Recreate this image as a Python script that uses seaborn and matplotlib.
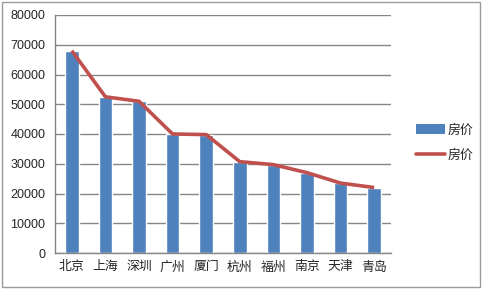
import matplotlib
matplotlib.use("Agg")
import matplotlib.pyplot as plt
import seaborn as sns
import pandas as pd
import numpy as np
from matplotlib.patches import Rectangle, Patch
from matplotlib.lines import Line2D

cities = ["北京", "上海", "深圳", "广州", "厦门", "杭州", "福州", "南京", "天津", "青岛"]
prices = [68000, 52500, 51000, 40000, 39800, 30700, 29700, 27000, 23500, 22000]
series_name = "房价"
y_ticks = [0, 10000, 20000, 30000, 40000, 50000, 60000, 70000, 80000]

sns.set_style("white")
plt.rcParams['font.family'] = ['Liberation Sans', 'Noto Sans CJK SC', 'DejaVu Sans']

df = pd.DataFrame({"city": cities, "price": prices})

fig = plt.figure(figsize=(4.82, 2.90), dpi=100)
ax = fig.add_axes([55/482, 1-253/290, (391-55)/482, (253-15)/290])

bar_color = "#4F81BD"
line_color = "#C0504D"
grid_color = "#868686"

sns.barplot(data=df, x="city", y="price", color=bar_color, width=0.4,
            saturation=1, ax=ax, zorder=2)
sns.pointplot(data=df, x="city", y="price", color=line_color, markers="",
              linestyles="-", errorbar=None, ax=ax, zorder=3)
for ln in ax.lines:
    ln.set_linewidth(2.6)
    ln.set_solid_capstyle("butt")

ax.set_xlim(-0.5, 9.5)
ax.set_ylim(0, 80000)
ax.set_yticks(y_ticks)
ax.set_yticklabels([str(v) for v in y_ticks], fontsize=9)
ax.set_xlabel("")
ax.set_ylabel("")
ax.tick_params(axis="x", which="major", length=0, labelsize=9.3, pad=6)
ax.set_xticks(np.arange(-0.5, 10, 1), minor=True)
ax.tick_params(axis="x", which="minor", length=4, color=grid_color, width=1, direction="out")
ax.tick_params(axis="y", length=4, color=grid_color, width=1, direction="out", pad=3)
ax.yaxis.grid(True, color=grid_color, linewidth=1)
ax.set_axisbelow(True)
for s in ["top", "right"]:
    ax.spines[s].set_visible(False)
for s in ["left", "bottom"]:
    ax.spines[s].set_color(grid_color)
    ax.spines[s].set_linewidth(1)

handles = [Patch(facecolor=bar_color, edgecolor="none"),
           Line2D([0], [0], color=line_color, lw=2.6)]
fig.legend(handles, [series_name, series_name], loc="center left",
           bbox_to_anchor=(404/482, 1-143/290), frameon=False, fontsize=9.3,
           handlelength=2.3, handleheight=0.9, labelspacing=1.0, handletextpad=0.15)

fig.patches.append(Rectangle((2/482, 3/290), 478/482, 285/290, transform=fig.transFigure,
                             fill=False, edgecolor="#9a9a9a", linewidth=1))

fig.savefig("out.png", dpi=100)
